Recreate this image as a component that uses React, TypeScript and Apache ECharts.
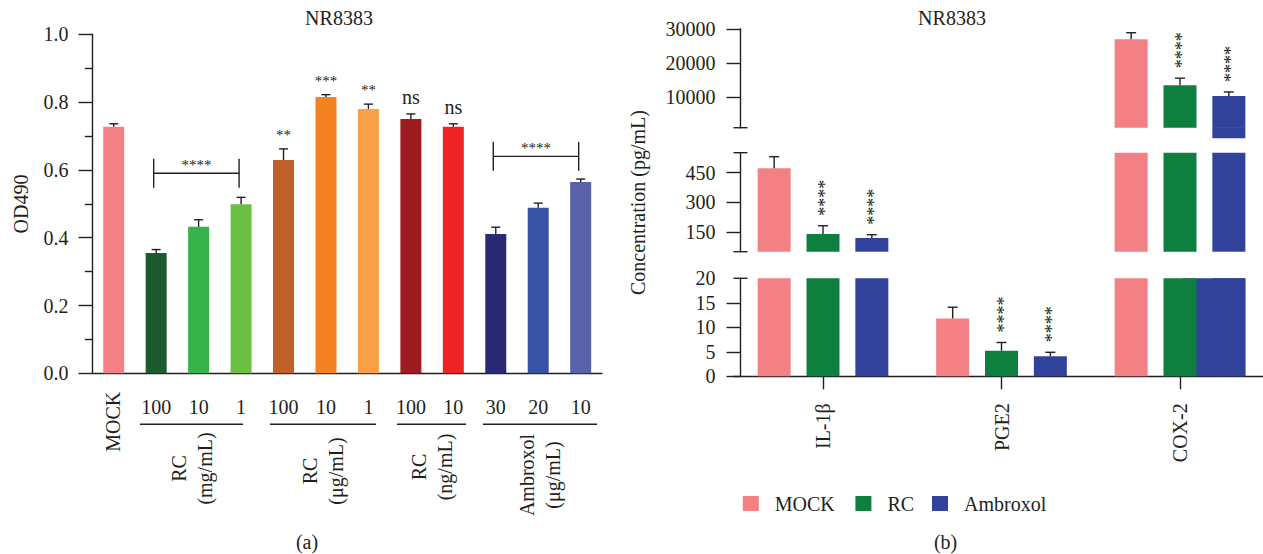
import React, { useEffect, useRef } from 'react';
import * as echarts from 'echarts';

const FONT = '"Liberation Serif", "Times New Roman", serif';
const INK = '#231f20';
const FS = 20;

// ---------- Panel (a) data ----------
const catsA = ['MOCK', '100', '10', '1', '100', '10', '1', '100', '10', '30', '20', '10'];
const odA = [0.727, 0.355, 0.432, 0.499, 0.629, 0.815, 0.78, 0.75, 0.727, 0.411, 0.488, 0.564];
const odErrA = [0.009, 0.01, 0.021, 0.02, 0.033, 0.007, 0.014, 0.015, 0.009, 0.02, 0.014, 0.009];
const sigA = ['', '', '', '', '**', '***', '**', 'ns', 'ns', '', '', ''];
const colorsA = ['#F28084', '#1B5B2F', '#36B44A', '#6CBE45', '#BF6128', '#F58221', '#F9A046', '#9D1C21', '#EE2325', '#282A73', '#3953A4', '#5961AB'];
const groupNamesA = ['RC\n(mg/mL)', 'RC\n(μg/mL)', 'RC\n(ng/mL)', 'Ambroxol\n(μg/mL)'];
const groupRangesA = [[1, 3], [4, 6], [7, 8], [9, 11]];
const bracketRangesA = [[1, 3], [9, 11]];
const bracketLevelsA = [0.59, 0.64];
const bracketLabelsA = ['****', '****'];

// ---------- Panel (b) data ----------
const catsB = ['IL-1β', 'PGE2', 'COX-2'];
const namesB = ['MOCK', 'RC', 'Ambroxol'];
const colorsB = ['#F28084', '#0F7F40', '#30429A'];
const mockB = [471, 11.8, 27000];
const rcB = [139, 5.2, 13500];
const ambB = [119, 4.1, 10300];
const mockErrB = [59, 2.3, 1900];
const rcErrB = [42, 1.7, 2050];
const ambErrB = [17, 0.8, 1200];
const mockSigB = ['', '', ''];
const rcSigB = ['****', '****', '****'];
const ambSigB = ['****', '****', '****'];
const segMinB = [1000, 50, 0];
const segMaxB = [30000, 550, 20];
const segTicksB = [[10000, 20000, 30000], [150, 300, 450], [0, 5, 10, 15]];
const segLabelsB = [[10000, 20000, 30000], [150, 300, 450], [0, 5, 10, 15, 20]];

// ---------- Layout (pixels) ----------
const GA = { left: 92.5, top: 34.3, width: 509.4, height: 339 };
const GB = { left: 733.75, width: 535.5, axisX: 740.5 };
const SEG = [
  { top: 29, height: 98.7 },
  { top: 152.7, height: 99 },
  { top: 278.3, height: 98 },
];
const BAR_W_B = 33;
const BAR_GAP_B = 0.48;
const GROUP_LINE_X = [[140, 243], [270, 376], [397, 466], [483, 597]];
const GROUP_LINE_Y = 424.3;
const GROUP_LABEL_CY = [468.5, 471, 467, 475];
const GLITCH_DROP = 11;

const centerA = (i: number) => GA.left + (i + 0.5) * (GA.width / catsA.length);
const offB = (k: number) => (k - 1) * BAR_W_B * (1 + BAR_GAP_B);

const lineStyle = { stroke: INK, lineWidth: 1.4 };

function renderErrA(params: any, api: any) {
  const i = api.value(0);
  const v = api.value(1);
  const e = api.value(2);
  const base = api.coord([i, v]);
  const top = api.coord([i, v + e]);
  const x = base[0];
  const children: any[] = [
    { type: 'line', shape: { x1: x, y1: base[1], x2: x, y2: top[1] }, style: lineStyle },
    { type: 'line', shape: { x1: x - 4.5, y1: top[1], x2: x + 4.5, y2: top[1] }, style: lineStyle },
  ];
  const s = sigA[i];
  if (s) {
    const star = s.indexOf('*') >= 0;
    children.push({
      type: 'text',
      x,
      y: top[1] - 6.5,
      style: { text: s, fill: INK, fontFamily: FONT, fontSize: star ? 15 : FS, align: 'center', verticalAlign: 'bottom' },
    });
  }
  return { type: 'group', children };
}

function renderBracket(params: any, api: any) {
  const a = api.value(0);
  const b = api.value(1);
  const lv = api.value(2);
  const p1 = api.coord([a, lv]);
  const p2 = api.coord([b, lv]);
  const x1 = p1[0] - 2.5;
  const x2 = p2[0] - 2;
  const y = p1[1];
  return {
    type: 'group',
    children: [
      { type: 'line', shape: { x1, y1: y, x2, y2: y }, style: lineStyle },
      { type: 'line', shape: { x1, y1: y - 14.5, x2: x1, y2: y + 14.5 }, style: lineStyle },
      { type: 'line', shape: { x1: x2, y1: y - 14.5, x2, y2: y + 14.5 }, style: lineStyle },
      {
        type: 'text',
        x: (x1 + x2) / 2,
        y: y - 8,
        style: { text: bracketLabelsA[params.dataIndex], fill: INK, fontFamily: FONT, fontSize: 15, align: 'center', verticalAlign: 'middle' },
      },
    ],
  };
}

function makeErrB(k: number, sigs: string[]) {
  return (params: any, api: any) => {
    const i = api.value(0);
    const v = api.value(1);
    const e = api.value(2);
    const base = api.coord([i, v]);
    const top = api.coord([i, v + e]);
    const x = base[0] + offB(k);
    const children: any[] = [
      { type: 'line', shape: { x1: x, y1: base[1], x2: x, y2: top[1] }, style: lineStyle },
      { type: 'line', shape: { x1: x - 5, y1: top[1], x2: x + 5, y2: top[1] }, style: lineStyle },
    ];
    const s = sigs[i];
    if (s) {
      children.push({
        type: 'text',
        x: x + 2,
        y: top[1] - 10,
        rotation: Math.PI / 2,
        style: { text: s, fill: INK, fontFamily: FONT, fontSize: 18, align: 'left', verticalAlign: 'middle' },
      });
    }
    return { type: 'group', children };
  };
}

function buildOption(): any {
  const valsB = [mockB, rcB, ambB];
  const errsB = [mockErrB, rcErrB, ambErrB];
  const sigsB = [mockSigB, rcSigB, ambSigB];

  const grids: any[] = [
    { left: GA.left, top: GA.top, width: GA.width, height: GA.height, outerBoundsMode: 'none' },
    ...SEG.map((s) => ({ left: GB.left, top: s.top, width: GB.width, height: s.height, outerBoundsMode: 'none' })),
  ];

  const axisLineStyle = { color: INK, width: 1.4 };
  const labelStyle = { color: INK, fontFamily: FONT, fontSize: FS };

  const xAxis: any[] = [
    {
      type: 'category',
      gridIndex: 0,
      data: catsA,
      axisLine: { lineStyle: axisLineStyle },
      axisTick: { alignWithLabel: true, length: 13.4, lineStyle: axisLineStyle },
      axisLabel: { ...labelStyle, interval: 0, margin: 23.5, formatter: (v: string, i: number) => (i === 0 ? '' : v) },
      splitLine: { show: false },
    },
    ...SEG.map((_, s) => ({
      type: 'category',
      gridIndex: s + 1,
      data: catsB,
      show: s === 2,
      axisLine: { show: s === 2, lineStyle: axisLineStyle },
      axisTick: { show: s === 2, alignWithLabel: true, length: 13, lineStyle: axisLineStyle },
      axisLabel: { show: s === 2, ...labelStyle, interval: 0, rotate: 90, margin: 27 },
      splitLine: { show: false },
    })),
  ];

  const yAxis: any[] = [
    {
      type: 'value',
      gridIndex: 0,
      min: 0,
      max: 1,
      interval: 0.2,
      axisLine: { show: true, lineStyle: axisLineStyle },
      axisTick: { show: true, length: 14, lineStyle: axisLineStyle },
      minorTick: { show: true, splitNumber: 2, length: 7.7, lineStyle: axisLineStyle },
      axisLabel: { ...labelStyle, margin: 24, formatter: (v: number) => v.toFixed(1) },
      splitLine: { show: false },
    },
    ...SEG.map((_, s) => ({
      type: 'value',
      gridIndex: s + 1,
      min: segMinB[s],
      max: segMaxB[s],
      offset: -(GB.axisX - GB.left),
      axisLine: { show: true, lineStyle: axisLineStyle },
      axisTick: { show: true, length: 14, lineStyle: axisLineStyle, customValues: segTicksB[s] },
      axisLabel: { ...labelStyle, margin: 25, customValues: segLabelsB[s], formatter: (v: number) => String(v) },
      splitLine: { show: false },
    })),
  ];

  const series: any[] = [
    {
      type: 'bar',
      name: 'OD490',
      xAxisIndex: 0,
      yAxisIndex: 0,
      barWidth: 21,
      data: odA.map((v, i) => ({ value: v, itemStyle: { color: colorsA[i] } })),
    },
    {
      type: 'custom',
      xAxisIndex: 0,
      yAxisIndex: 0,
      renderItem: renderErrA,
      encode: { x: 0, y: 1 },
      data: odA.map((v, i) => [i, v, odErrA[i]]),
      z: 3,
    },
    {
      type: 'custom',
      xAxisIndex: 0,
      yAxisIndex: 0,
      renderItem: renderBracket,
      encode: { x: [0, 1], y: 2 },
      data: bracketRangesA.map((r, j) => [r[0], r[1], bracketLevelsA[j]]),
      z: 3,
    },
  ];

  SEG.forEach((_, s) => {
    namesB.forEach((nm, k) => {
      series.push({
        type: 'bar',
        name: nm,
        xAxisIndex: s + 1,
        yAxisIndex: s + 1,
        barWidth: BAR_W_B,
        barGap: BAR_GAP_B * 100 + '%',
        clip: true,
        itemStyle: { color: colorsB[k] },
        data: valsB[k],
      });
    });
  });

  // glitches visible in the source figure (overlapping Ambroxol COX-2 block)
  series.push({
    type: 'custom',
    xAxisIndex: 3,
    yAxisIndex: 3,
    silent: true,
    renderItem: (params: any, api: any) => {
      const i = api.value(0);
      const pTop = api.coord([i, segMaxB[2]]);
      const pBot = api.coord([i, segMinB[2]]);
      const x1 = pTop[0] + 3;
      const x2 = pTop[0] + offB(2) + BAR_W_B / 2;
      return { type: 'rect', shape: { x: x1, y: pTop[1], width: x2 - x1, height: pBot[1] - pTop[1] }, style: { fill: colorsB[2] } };
    },
    encode: { x: 0, y: 1 },
    data: [[2, ambB[2]]],
    z: 2,
  });
  series.push({
    type: 'custom',
    xAxisIndex: 1,
    yAxisIndex: 1,
    silent: true,
    renderItem: (params: any, api: any) => {
      const i = api.value(0);
      const p = api.coord([i, segMinB[0]]);
      const x = p[0] + offB(2) - BAR_W_B / 2;
      return { type: 'rect', shape: { x, y: p[1] - 0.5, width: BAR_W_B, height: GLITCH_DROP }, style: { fill: colorsB[2] } };
    },
    encode: { x: 0, y: 1 },
    data: [[2, ambB[2]]],
    z: 2,
  });

  SEG.forEach((_, s) => {
    namesB.forEach((nm, k) => {
      const data = valsB[k]
        .map((v, i) => [i, v, errsB[k][i]])
        .filter((d) => d[1] >= segMinB[s] && d[1] <= segMaxB[s]);
      if (!data.length) return;
      series.push({
        type: 'custom',
        xAxisIndex: s + 1,
        yAxisIndex: s + 1,
        renderItem: makeErrB(k, sigsB[k]),
        encode: { x: 0, y: 1 },
        data,
        z: 3,
      });
    });
  });

  const text = (t: string, x: number, y: number, extra: any = {}) => ({
    type: 'text',
    x,
    y,
    silent: true,
    style: { text: t, fill: INK, fontFamily: FONT, fontSize: FS, align: 'center', verticalAlign: 'middle', ...extra },
  });

  const graphic: any[] = [
    text('NR8383', 339, 18),
    text('NR8383', 952, 18),
    text('(a)', 307, 542),
    text('(b)', 945.6, 542),
    { ...text('OD490', 20.7, 204), rotation: Math.PI / 2 },
    { ...text('Concentration (pg/mL)', 638, 202.5), rotation: Math.PI / 2 },
    { ...text(catsA[0], centerA(0) - 1, GA.top + GA.height + 18.4, { align: 'right' }), rotation: Math.PI / 2 },
  ];
  GROUP_LINE_X.forEach((xs) => {
    graphic.push({ type: 'line', silent: true, shape: { x1: xs[0], y1: GROUP_LINE_Y, x2: xs[1], y2: GROUP_LINE_Y }, style: lineStyle });
  });
  groupNamesA.forEach((nm, g) => {
    const cx = (GROUP_LINE_X[g][0] + GROUP_LINE_X[g][1]) / 2;
    graphic.push({ ...text(nm, cx, GROUP_LABEL_CY[g], { lineHeight: 26 }), rotation: Math.PI / 2 });
  });
  // axis break caps
  const capYs = [SEG[0].top + SEG[0].height, SEG[1].top, SEG[1].top + SEG[1].height, SEG[2].top];
  capYs.forEach((y) => {
    graphic.push({ type: 'line', silent: true, shape: { x1: GB.axisX - 7, y1: y, x2: GB.axisX + 7, y2: y }, style: lineStyle });
  });

  const legendX = [742.8, 855.4, 932];
  const legend = namesB.map((nm, k) => ({
    data: [nm],
    left: legendX[k],
    top: 493.5,
    padding: 0,
    itemWidth: 16,
    itemHeight: 15,
    icon: 'rect',
    selectedMode: false,
    textStyle: { color: INK, fontFamily: FONT, fontSize: FS, padding: [0, 0, 0, 11] },
  }));

  return {
    animation: false,
    backgroundColor: '#ffffff',
    grid: grids,
    xAxis,
    yAxis,
    series,
    graphic,
    legend,
  };
}

export default function App() {
  const ref = useRef<HTMLDivElement>(null);
  useEffect(() => {
    const chart = echarts.init(ref.current as HTMLDivElement, undefined, { renderer: 'svg' });
    chart.setOption(buildOption());
    return () => chart.dispose();
  }, []);
  return <div ref={ref} style={{ position: 'absolute', left: 0, top: 0, width: 1263, height: 554 }} />;
}
